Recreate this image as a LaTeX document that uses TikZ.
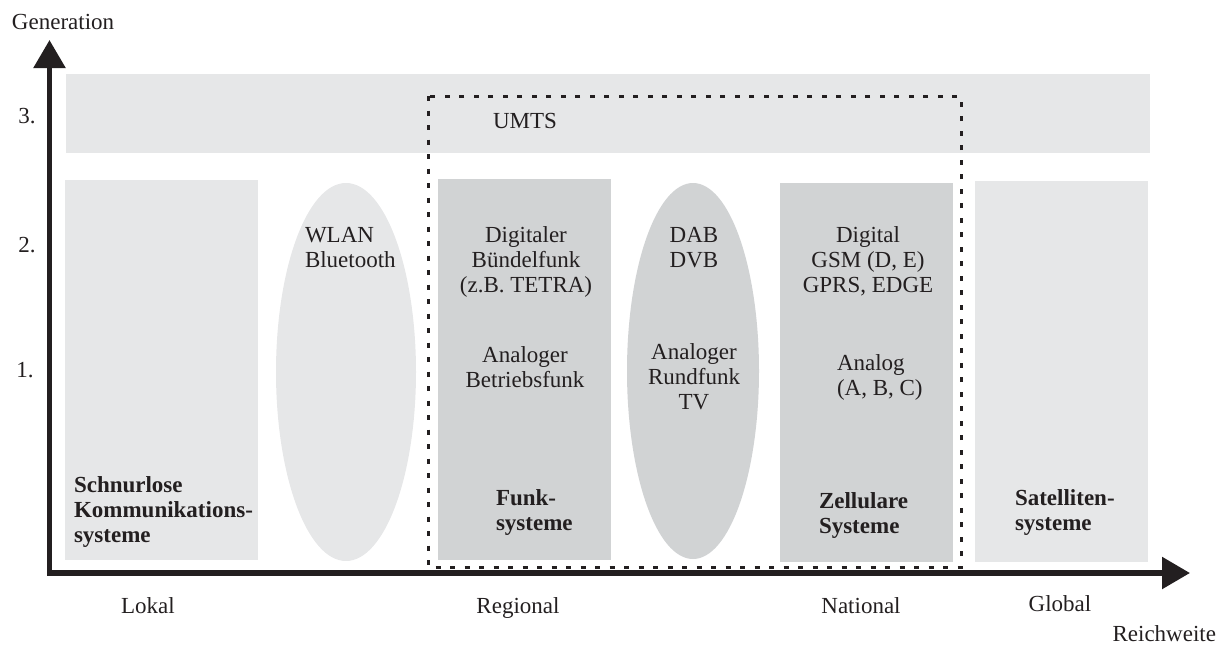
\documentclass[tikz,border=0pt]{standalone}
\usepackage{fontspec}
\setmainfont{Liberation Serif}
\usetikzlibrary{arrows.meta}

\definecolor{ink}{HTML}{231F20}
\definecolor{paleband}{HTML}{E6E7E8}
\definecolor{midband}{HTML}{D1D3D4}

% multi-line label whose first baseline sits on the node's base anchor
\newcommand\txtlines[2]{\begin{tabular}[t]{@{}#1@{}}#2\end{tabular}}

\begin{document}
\begin{tikzpicture}[x=1pt,y=-1pt,
  every node/.style={inner sep=0pt,outer sep=0pt,text=ink,
    font=\fontsize{23}{25}\selectfont},
  lbl/.style={anchor=base},
  lblw/.style={anchor=base west},
  pale/.style={fill=paleband,draw=none},
  mid/.style={fill=midband,draw=none},
  axisline/.style={draw=ink,line width=5.5pt,line join=miter,
    {Triangle[length=28pt,width=31pt]}-{Triangle[length=28pt,width=31pt]}},
  groupbox/.style={draw=ink,line width=3pt,dash pattern=on 5pt off 9.5pt}]

\useasboundingbox (0,0) rectangle (1221,646);

% background bands and regions
\path[pale] (66,74) rectangle (1150,153);
\path[pale] (65,180) rectangle (258,560);
\path[pale] (346,372) ellipse [x radius=70, y radius=189];
\path[mid]  (438,179) rectangle (611,560);
\path[mid]  (693,371) ellipse [x radius=66, y radius=188];
\path[mid]  (780,183) rectangle (953,562);
\path[pale] (975,181) rectangle (1148,562);

% dashed grouping of regional and national systems
\draw[groupbox] (428,96) rectangle (961,567);

% axes
\coordinate (ytip) at (49.5,40);
\coordinate (origin) at (49.5,573);
\coordinate (xtip) at (1190,573);
\draw[axisline] (ytip) -- (origin) -- (xtip);

% axis labels
\node[lblw] (gen) at (12,29) {Generation};
\node[lbl] (g3) at (27,123) {3.};
\node[lbl] (g2) at (27,252) {2.};
\node[lbl] (g1) at (25,377) {1.};
\node[lbl] (lokal) at (148,613) {Lokal};
\node[lbl] (regional) at (518,613) {Regional};
\node[lbl] (national) at (861,613) {National};
\node[lbl] (global) at (1060,611) {Global};
\node[anchor=base east] (reich) at (1216,641) {Reichweite};

% contents
\node[lbl] (umts) at (525,128) {UMTS};
\node[lblw] (wlan) at (305,242) {\txtlines{l}{WLAN\\Bluetooth}};
\node[lbl] (tetra) at (526,242) {\txtlines{c}{Digitaler\\Bündelfunk\\(z.B. TETRA)}};
\node[lbl] (betrieb) at (525,362) {\txtlines{c}{Analoger\\Betriebsfunk}};
\node[lbl] (dab) at (694,242) {\txtlines{c}{DAB\\DVB}};
\node[lbl] (rundfunk) at (694,359) {\txtlines{c}{Analoger\\Rundfunk\\TV}};
\node[lbl] (gsm) at (868,242) {\txtlines{c}{Digital\\GSM (D, E)\\GPRS, EDGE}};
\node[lblw] (analog) at (837,370) {\txtlines{l}{Analog\\(A, B, C)}};

% region titles
\node[lblw] (schnurlos) at (74,492) {\bfseries\txtlines{l}{Schnurlose\\Kommunikations-\\systeme}};
\node[lblw] (funk) at (496,505) {\bfseries\txtlines{l}{Funk-\\systeme}};
\node[lblw] (zell) at (819,508) {\bfseries\txtlines{l}{Zellulare\\Systeme}};
\node[lblw] (sat) at (1015,505) {\bfseries\txtlines{l}{Satelliten-\\systeme}};
\end{tikzpicture}
\end{document}
